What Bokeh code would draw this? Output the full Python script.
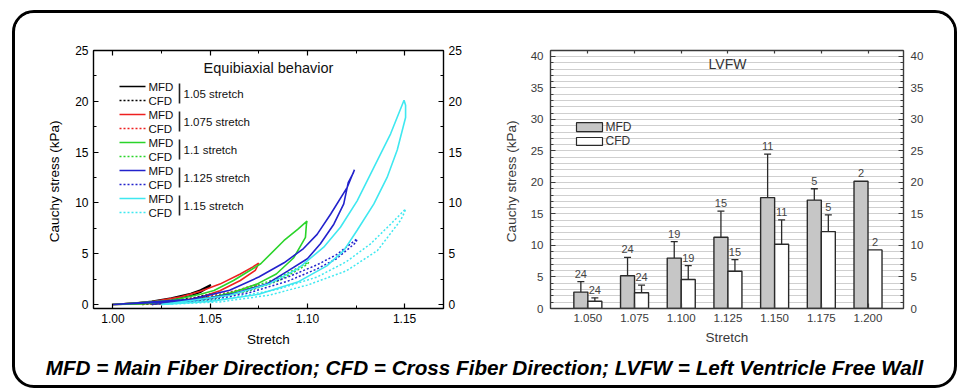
from bokeh.plotting import figure
from bokeh.models import (LinearAxis, SingleIntervalTicker, FixedTicker, PrintfTickFormatter,
                          CustomJSTickFormatter, Label, LabelSet, Whisker, TeeHead,
                          ColumnDataSource, Div)
from bokeh.layouts import row, column
from bokeh.core.properties import value
from bokeh.embed import file_html
from bokeh.resources import INLINE

FONT = "Liberation Sans"

# ---------------- Panel A data: hysteresis loops (stretch, Cauchy stress kPa) ----------------
mfd_105_s = [1.000, 1.010, 1.020, 1.030, 1.040, 1.045, 1.0503, 1.0495, 1.045, 1.040, 1.030, 1.020, 1.010, 1.000]
mfd_105_p = [0.00, 0.10, 0.30, 0.62, 1.08, 1.42, 1.94, 1.70, 1.20, 0.85, 0.42, 0.17, 0.05, 0.00]
cfd_105_s = [1.015, 1.025, 1.035, 1.042, 1.050, 1.0495, 1.042, 1.035, 1.025, 1.015]
cfd_105_p = [0.00, 0.18, 0.45, 0.68, 1.02, 0.88, 0.55, 0.33, 0.10, 0.00]

mfd_1075_s = [1.000, 1.020, 1.035, 1.045, 1.055, 1.0655, 1.072, 1.0749, 1.0745, 1.0732, 1.0655, 1.055, 1.045, 1.035, 1.020, 1.000]
mfd_1075_p = [0.00, 0.25, 0.75, 1.30, 2.00, 3.00, 3.70, 4.07, 3.85, 3.35, 2.36, 1.35, 0.70, 0.35, 0.10, 0.00]
cfd_1075_s = [1.020, 1.040, 1.055, 1.065, 1.075, 1.0745, 1.065, 1.055, 1.040, 1.020]
cfd_1075_p = [0.00, 0.45, 1.00, 1.45, 2.05, 1.85, 1.20, 0.80, 0.30, 0.00]

mfd_110_s = [1.000, 1.030, 1.045, 1.052, 1.062, 1.076, 1.088, 1.095, 1.0998, 1.0995, 1.099, 1.093, 1.084, 1.074, 1.062, 1.050, 1.035, 1.015, 1.000]
mfd_110_p = [0.00, 0.40, 1.00, 1.38, 2.36, 4.00, 6.30, 7.40, 8.20, 7.90, 6.60, 4.60, 3.00, 2.00, 1.20, 0.65, 0.30, 0.05, 0.00]
cfd_110_s = [1.020, 1.050, 1.070, 1.085, 1.1007, 1.100, 1.085, 1.070, 1.050, 1.020]
cfd_110_p = [0.00, 0.70, 1.60, 2.60, 4.16, 3.95, 2.30, 1.35, 0.50, 0.00]

mfd_1125_s = [1.000, 1.040, 1.060, 1.075, 1.088, 1.098, 1.105, 1.112, 1.1204, 1.1242, 1.1235, 1.121, 1.1187, 1.1136, 1.1067, 1.100, 1.090, 1.079, 1.062, 1.040, 1.000]
mfd_1125_p = [0.00, 0.50, 1.40, 2.70, 4.10, 5.50, 6.90, 8.90, 11.50, 13.26, 12.90, 12.00, 9.90, 7.90, 5.97, 4.50, 3.30, 2.00, 1.05, 0.35, 0.00]
cfd_1125_s = [1.020, 1.050, 1.070, 1.090, 1.105, 1.115, 1.1256, 1.125, 1.115, 1.105, 1.090, 1.070, 1.050, 1.020]
cfd_1125_p = [0.00, 0.55, 1.40, 2.70, 3.90, 4.90, 6.46, 6.10, 4.50, 3.50, 2.30, 1.15, 0.40, 0.00]

mfd_115_s = [1.025, 1.060, 1.080, 1.095, 1.1084, 1.117, 1.1256, 1.1342, 1.1428, 1.1497, 1.1505, 1.1505, 1.1462, 1.141, 1.1342, 1.1256, 1.1187, 1.110, 1.095, 1.075, 1.050, 1.025]
mfd_115_p = [0.00, 0.90, 2.00, 3.50, 5.64, 7.60, 10.20, 13.50, 16.80, 20.10, 19.60, 18.40, 15.20, 12.50, 9.90, 7.30, 5.30, 3.80, 2.20, 1.00, 0.30, 0.00]
cfd_115_s = [1.025, 1.060, 1.085, 1.105, 1.120, 1.1325, 1.1428, 1.1505, 1.150, 1.148, 1.136, 1.120, 1.100, 1.080, 1.055, 1.025]
cfd_115_p = [0.00, 0.60, 1.50, 2.70, 4.20, 5.97, 7.90, 9.40, 9.10, 8.30, 5.30, 3.30, 1.90, 0.90, 0.25, 0.00]

group_labels = ["1.05 stretch", "1.075 stretch", "1.1 stretch", "1.125 stretch", "1.15 stretch"]
group_colors = ["#000000", "#ee2020", "#2ad42a", "#2222cc", "#3fe8f0"]

# ---------------- Panel B data ----------------
stretch_b = [1.050, 1.075, 1.100, 1.125, 1.150, 1.175, 1.200]
mfd_mean = [2.6, 5.2, 8.0, 11.3, 17.6, 17.2, 20.2]
mfd_sd = [1.65, 2.9, 2.6, 4.15, 6.9, 1.8, 0.0]
cfd_mean = [1.15, 2.5, 4.6, 5.9, 10.2, 12.2, 9.3]
cfd_sd = [0.55, 1.2, 2.2, 1.85, 3.85, 2.65, 0.0]
n_mfd = [24, 24, 19, 15, 11, 5, 2]
n_cfd = [24, 24, 19, 15, 11, 5, 2]

caption_text = "MFD = Main Fiber Direction; CFD = Cross Fiber Direction; LVFW = Left Ventricle Free Wall"

DOT = "2 2"


def style_axis(ax, color, tick_size="12px", label_size="13.5px", standoff=5, label_standoff=8):
    ax.axis_line_color = color
    ax.axis_line_width = 1.4
    ax.major_tick_in = 5
    ax.major_tick_out = 0
    ax.minor_tick_in = 3
    ax.minor_tick_out = 0
    ax.major_tick_line_color = color
    ax.minor_tick_line_color = color
    ax.major_tick_line_width = 1.2
    ax.minor_tick_line_width = 1.0
    ax.major_label_text_font = FONT
    ax.major_label_text_font_size = tick_size
    ax.major_label_text_color = color
    ax.major_label_standoff = standoff
    ax.axis_label_text_font = FONT
    ax.axis_label_text_font_size = label_size
    ax.axis_label_text_font_style = "normal"
    ax.axis_label_text_color = color
    ax.axis_label_standoff = label_standoff


# ======================= Panel A =======================
A_W, A_H = 465, 339
A_L, A_R, A_T, A_B = 78, 37, 37, 44
AX0, AX1, AY0, AY1 = 0.99, 1.17, -0.4, 25.0
pA = figure(width=A_W, height=A_H, x_range=(AX0, AX1), y_range=(AY0, AY1),
            output_backend="svg", toolbar_location=None,
            min_border_left=A_L, min_border_right=A_R, min_border_top=A_T, min_border_bottom=A_B,
            x_axis_label="Stretch", y_axis_label="Cauchy stress  (kPa)")
pA.grid.visible = False
pA.outline_line_color = "black"
pA.xaxis.ticker = SingleIntervalTicker(interval=0.05, num_minor_ticks=2)
pA.xaxis.formatter = PrintfTickFormatter(format="%.2f")
pA.yaxis.ticker = SingleIntervalTicker(interval=5, num_minor_ticks=2)
style_axis(pA.xaxis[0], "black", label_standoff=6)
style_axis(pA.yaxis[0], "black", label_standoff=10)
ra = LinearAxis(ticker=SingleIntervalTicker(interval=5, num_minor_ticks=2))
style_axis(ra, "black")
pA.add_layout(ra, "right")
ta = LinearAxis(ticker=SingleIntervalTicker(interval=0.05, num_minor_ticks=2),
                formatter=CustomJSTickFormatter(code="return ''"))
style_axis(ta, "black")
pA.add_layout(ta, "above")

curves = [
    (mfd_105_s, mfd_105_p, cfd_105_s, cfd_105_p),
    (mfd_1075_s, mfd_1075_p, cfd_1075_s, cfd_1075_p),
    (mfd_110_s, mfd_110_p, cfd_110_s, cfd_110_p),
    (mfd_1125_s, mfd_1125_p, cfd_1125_s, cfd_1125_p),
    (mfd_115_s, mfd_115_p, cfd_115_s, cfd_115_p),
]
for (ms, mp, cs, cp), col in zip(curves, group_colors):
    pA.line(cs, cp, line_color=col, line_width=1.5, line_dash=DOT)
    pA.line(ms, mp, line_color=col, line_width=1.6)

# pixel -> data helpers for panel A (pixels measured from frame top-left)
A_FW = A_W - A_L - A_R
A_FH = A_H - A_T - A_B


def ax_(px):
    return AX0 + px / A_FW * (AX1 - AX0)


def ay_(py):
    return AY1 - py / A_FH * (AY1 - AY0)


# legend of panel A
for i, (lab, col) in enumerate(zip(group_labels, group_colors)):
    ym = 36 + 28 * i
    yc = ym + 14
    pA.segment(x0=[ax_(26)], y0=[ay_(ym)], x1=[ax_(52)], y1=[ay_(ym)], line_color=col, line_width=1.6)
    pA.segment(x0=[ax_(26)], y0=[ay_(yc)], x1=[ax_(52)], y1=[ay_(yc)], line_color=col, line_width=1.5,
               line_dash=DOT)
    pA.segment(x0=[ax_(86)], y0=[ay_(ym - 3)], x1=[ax_(86)], y1=[ay_(yc + 3)], line_color="#222222",
               line_width=1.6)
    for txt, yy in (("MFD", ym), ("CFD", yc)):
        pA.add_layout(Label(x=ax_(55), y=ay_(yy), text=txt, text_font=FONT, text_font_size="11.5px",
                            text_baseline="middle", text_align="left", text_color="#111111"))
    pA.add_layout(Label(x=ax_(90), y=ay_((ym + yc) / 2), text=lab, text_font=FONT, text_font_size="11.5px",
                        text_baseline="middle", text_align="left", text_color="#111111"))

pA.add_layout(Label(x=ax_(175), y=ay_(17), text="Equibiaxial behavior", text_font=FONT,
                    text_font_size="14.5px", text_align="center", text_baseline="middle",
                    text_color="#111111"))
pA.add_layout(Label(x=ax_(-48), y=ay_(-5), text="A", text_font=FONT, text_font_size="17px",
                    text_font_style="bold", text_align="center", text_baseline="middle"))

# ======================= Panel B =======================
B_W, B_H = 474, 339
B_L, B_R, B_T, B_B = 70, 51, 37, 41
BX0, BX1, BY0, BY1 = 1.03, 1.219, 0.0, 40.94
GREY = "#3a3a3a"
pB = figure(width=B_W, height=B_H, x_range=(BX0, BX1), y_range=(BY0, BY1),
            output_backend="svg", toolbar_location=None,
            min_border_left=B_L, min_border_right=B_R, min_border_top=B_T, min_border_bottom=B_B,
            x_axis_label="Stretch", y_axis_label="Cauchy stress  (kPa)")
pB.xgrid.visible = False
pB.ygrid.grid_line_color = "#cfcfcf"
pB.ygrid.minor_grid_line_color = "#cfcfcf"
pB.ygrid.grid_line_width = 1.2
pB.ygrid.minor_grid_line_width = 1.2
pB.outline_line_color = GREY
pB.xaxis.ticker = FixedTicker(ticks=stretch_b)
pB.xaxis.formatter = PrintfTickFormatter(format="%.3f")
pB.yaxis.ticker = SingleIntervalTicker(interval=5, num_minor_ticks=5)
style_axis(pB.xaxis[0], GREY, tick_size="11.5px", label_size="13.5px", standoff=5, label_standoff=5)
style_axis(pB.yaxis[0], GREY, tick_size="11.5px", label_size="13.5px", standoff=7, label_standoff=9)
rb = LinearAxis(ticker=SingleIntervalTicker(interval=5, num_minor_ticks=5))
style_axis(rb, GREY, tick_size="11.5px", standoff=7)
pB.add_layout(rb, "right")
tb = LinearAxis(ticker=FixedTicker(ticks=stretch_b), formatter=CustomJSTickFormatter(code="return ''"))
style_axis(tb, GREY)
pB.add_layout(tb, "above")
for ax in (pB.xaxis[0], tb):
    ax.major_tick_in = 3

BAR_W = 0.0075
src = ColumnDataSource(dict(
    x_m=[s - BAR_W / 2 for s in stretch_b],
    x_c=[s + BAR_W / 2 for s in stretch_b],
    mfd=mfd_mean, cfd=cfd_mean,
    top_m=[m + e for m, e in zip(mfd_mean, mfd_sd)],
    top_c=[m + e for m, e in zip(cfd_mean, cfd_sd)],
    n_m=[str(n) for n in n_mfd], n_c=[str(n) for n in n_cfd],
))
pB.vbar(x="x_m", top="mfd", bottom=0, width=BAR_W, source=src, fill_color="#c6c6c6",
        line_color="#2a2a2a", line_width=1.4)
pB.vbar(x="x_c", top="cfd", bottom=0, width=BAR_W, source=src, fill_color="white",
        line_color="#2a2a2a", line_width=1.4)

for xs, means, sds in ((src.data["x_m"], mfd_mean, mfd_sd), (src.data["x_c"], cfd_mean, cfd_sd)):
    keep = [i for i, e in enumerate(sds) if e > 0]
    wsrc = ColumnDataSource(dict(
        base=[xs[i] for i in keep],
        upper=[means[i] + sds[i] for i in keep],
        lower=[means[i] - sds[i] for i in keep],
    ))
    pB.add_layout(Whisker(source=wsrc, base="base", upper="upper", lower="lower",
                          line_color="#2a2a2a", line_width=1.3,
                          upper_head=TeeHead(size=7, line_color="#2a2a2a", line_width=1.3),
                          lower_head=TeeHead(size=7, line_color="#2a2a2a", line_width=1.3)))

pB.add_layout(LabelSet(x="x_m", y="top_m", text="n_m", source=src, y_offset=4, text_align="center",
                       text_baseline="bottom", text_font=value(FONT), text_font_size="11px",
                       text_color="#444444"))
pB.add_layout(LabelSet(x="x_c", y="top_c", text="n_c", source=src, y_offset=4, text_align="center",
                       text_baseline="bottom", text_font=value(FONT), text_font_size="11px",
                       text_color="#444444"))

B_FW = B_W - B_L - B_R
B_FH = B_H - B_T - B_B


def bx_(px):
    return BX0 + px / B_FW * (BX1 - BX0)


def by_(py):
    return BY1 - py / B_FH * (BY1 - BY0)


# legend of panel B
for (lab, fill, y0, y1) in (("MFD", "#c6c6c6", 73, 82), ("CFD", "white", 88, 96)):
    pB.quad(left=[bx_(26)], right=[bx_(52)], top=[by_(y0)], bottom=[by_(y1)], fill_color=fill,
            line_color="#2a2a2a", line_width=1.2)
    pB.add_layout(Label(x=bx_(55), y=by_((y0 + y1) / 2), text=lab, text_font=FONT, text_font_size="12px",
                        text_baseline="middle", text_align="left", text_color="#333333"))

pB.add_layout(Label(x=bx_(177), y=by_(14), text="LVFW", text_font=FONT, text_font_size="14px",
                    text_align="center", text_baseline="middle", text_color="#333333"))
pB.add_layout(Label(x=bx_(-55), y=by_(-7), text="B", text_font=FONT, text_font_size="17px",
                    text_font_style="bold", text_align="center", text_baseline="middle"))

for p in (pA, pB):
    p.background_fill_color = "white"
    p.border_fill_color = "white"

CAP_H = 33
caption = Div(text=caption_text, width=A_W + B_W, height=CAP_H,
              styles={"font-family": "'Liberation Sans', Arial, sans-serif", "font-size": "20.7px",
                      "font-weight": "bold", "font-style": "italic", "text-align": "center",
                      "line-height": "32px", "color": "black", "white-space": "nowrap",
                      "margin": "0px", "padding": "0px"})

layout = column(row(pA, pB), caption,
                styles={"border": "3px solid black", "border-radius": "22px",
                        "margin-left": "12px", "margin-top": "10px", "background": "white",
                        "box-sizing": "content-box",
                        "width": f"{A_W + B_W}px", "height": f"{A_H + CAP_H}px",
                        "overflow": "hidden"})

open("out.html", "w").write(file_html(layout, INLINE))
